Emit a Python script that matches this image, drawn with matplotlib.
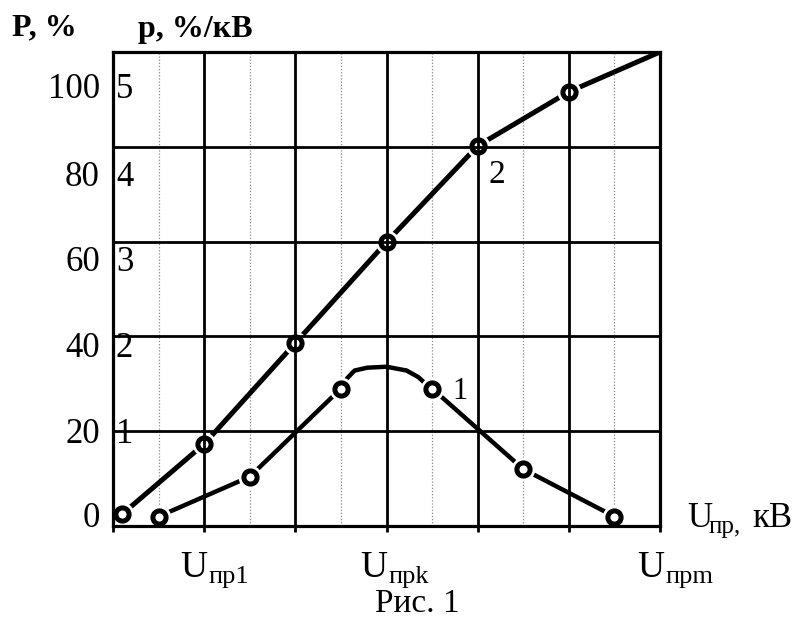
import matplotlib
matplotlib.use("Agg")
import matplotlib.pyplot as plt

# ---------------- data ----------------
# curve 2: cumulative breakdown probability P, % (left scale)
x_P = [0.1, 1.0, 2.0, 3.0, 4.0, 5.0, 6.0]
P_vals = [2.5, 17.3, 38.6, 59.9, 80.2, 91.6, 100.0]
P_marked = [True, True, True, True, True, True, False]

# curve 1: probability density p, %/кВ (right scale 0..5)
x_p = [0.5, 1.5, 2.5, 2.57, 2.65, 2.79, 3.0, 3.22, 3.35, 3.44, 3.5, 4.5, 5.5]
p_vals = [0.10, 0.52, 1.45, 1.56, 1.64, 1.67, 1.68, 1.64, 1.57, 1.49, 1.45, 0.60, 0.10]
p_marked = [True, True, True, False, False, False, False, False, False, False, True, True, True]

P_ticks = [100, 80, 60, 40, 20, 0]
p_ticks = [5, 4, 3, 2, 1]
P_per_p = 20  # right scale 5 <-> left scale 100

x_major = [0, 1, 2, 3, 4, 5, 6]
x_minor = [0.5, 1.5, 2.5, 3.5, 4.5, 5.5]
y_major = [20, 40, 60, 80]

W, H = 800, 620
fig = plt.figure(figsize=(W / 100, H / 100), dpi=100)
ax = fig.add_axes([113 / W, 1 - 526 / H, (660 - 113) / W, (526 - 52) / H])
ax.set_xlim(0, 6)
ax.set_ylim(0, 100)

serif = ["Liberation Serif", "DejaVu Serif"]

# grid
for xv in x_minor:
    ax.axvline(xv, color="#8a8a8a", lw=0.9, ls=(0, (1, 1.5)), zorder=1)
for xv in x_major[1:-1]:
    ax.axvline(xv, color="black", lw=2.0, zorder=5)
for yv in y_major:
    ax.axhline(yv, color="black", lw=2.0, zorder=5)

for s in ax.spines.values():
    s.set_linewidth(2.3)
    s.set_zorder(6)

ax.set_xticks(x_major)
ax.set_yticks([])
ax.tick_params(axis="x", direction="out", length=4, width=2, labelbottom=False)

def draw_curve(xs, ys, marked, lw):
    ax.plot(xs, ys, color="black", lw=lw, solid_capstyle="butt",
            solid_joinstyle="round", zorder=2)
    mx = [a for a, m in zip(xs, marked) if m]
    my = [b for b, m in zip(ys, marked) if m]
    ax.plot(mx, my, ls="none", marker="o", ms=17, mfc="white", mec="none", zorder=3)
    ax.plot(mx, my, ls="none", marker="o", ms=9.5, mfc="none", mec="black", mew=3.6, zorder=7)

draw_curve(x_P, P_vals, P_marked, 3.6)
draw_curve(x_p, [v * P_per_p for v in p_vals], p_marked, 3.2)

def fx(x):
    return x / W

def fy(y):
    return 1 - y / H

# left tick labels (P, %)
left_base = [98, 186, 271, 357, 443, 527]
for lab, b in zip(P_ticks, left_base):
    fig.text(fx(100), fy(b), str(lab), ha="right", va="baseline",
             fontsize=25, family=serif)
# right-scale labels (p, %/кВ) inside the frame
for lab, b in zip(p_ticks, left_base[:5]):
    fig.text(fx(116), fy(b), str(lab), ha="left", va="baseline",
             fontsize=25, family=serif, zorder=8)

# axis titles
fig.text(fx(12), fy(35), "P, %", ha="left", va="baseline", fontsize=23,
         fontweight="bold", family=serif)
fig.text(fx(138), fy(37), "p, %/кВ", ha="left", va="baseline", fontsize=23,
         fontweight="bold", family=serif)

# x labels
def ulabel(x0, base, sub, size=27, subsize=19, dx=28, dy=6):
    fig.text(fx(x0), fy(base), "U", ha="left", va="baseline", fontsize=size, family=serif)
    fig.text(fx(x0 + dx), fy(base + dy), sub, ha="left", va="baseline",
             fontsize=subsize, family=serif)

ulabel(180, 577, "пр1")
ulabel(360, 577, "прk")
ulabel(637, 577, "прm")
ulabel(687, 527, "пр,", size=25, subsize=18, dx=22, dy=6)
fig.text(fx(752), fy(527), "кВ", ha="left", va="baseline", fontsize=25, family=serif)

# curve labels
fig.text(fx(489), fy(183), "2", ha="left", va="baseline", fontsize=24, family=serif)
fig.text(fx(452), fy(399), "1", ha="left", va="baseline", fontsize=22, family=serif)

# caption
fig.text(fx(375), fy(612), "Рис. 1", ha="left", va="baseline", fontsize=24, family=serif)

fig.savefig("out.png", dpi=100, facecolor="white")
